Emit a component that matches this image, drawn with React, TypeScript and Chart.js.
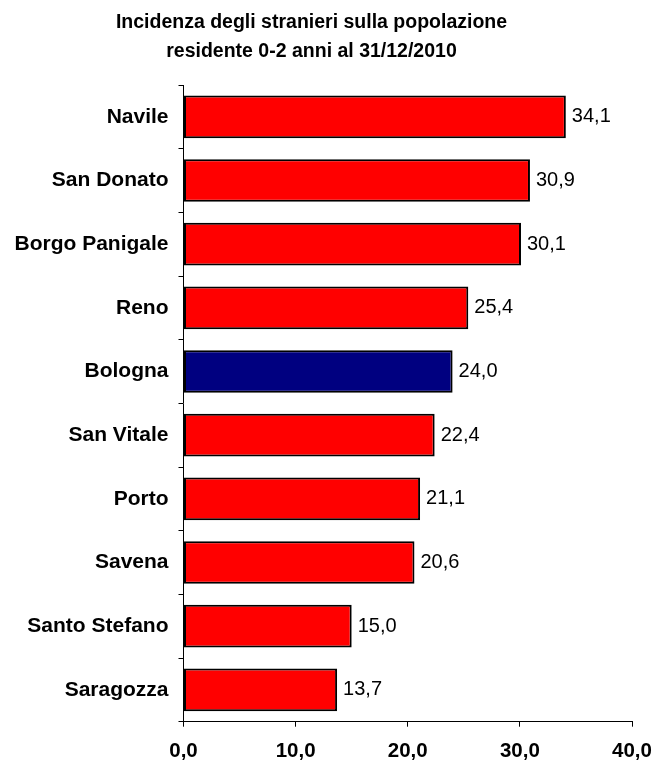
import React, { useEffect, useRef } from "react";
import { Chart, registerables } from "chart.js";

Chart.register(...registerables);

const categories: string[] = [
  "Navile",
  "San Donato",
  "Borgo Panigale",
  "Reno",
  "Bologna",
  "San Vitale",
  "Porto",
  "Savena",
  "Santo Stefano",
  "Saragozza",
];
const values: number[] = [34.1, 30.9, 30.1, 25.4, 24.0, 22.4, 21.1, 20.6, 15.0, 13.7];
const titleLines: string[] = [
  "Incidenza degli stranieri sulla popolazione",
  "residente 0-2 anni al 31/12/2010",
];
const highlight = "Bologna";
const xMin = 0;
const xMax = 40;
const xStep = 10;

const FONT = "'Liberation Sans', Arial, Helvetica, sans-serif";
const fmt = (v: number) => v.toFixed(1).replace(".", ",");

const titlePlugin = {
  id: "customTitle",
  afterDraw(chart: any) {
    const ctx = chart.ctx;
    ctx.save();
    ctx.fillStyle = "#000";
    ctx.font = `bold 19.5px ${FONT}`;
    ctx.textAlign = "center";
    ctx.textBaseline = "middle";
    const cx = 311.5;
    titleLines.forEach((t, i) => ctx.fillText(t, cx, 22.5 + i * 29));
    ctx.restore();
  },
};

const valueLabels = {
  id: "valueLabels",
  afterDatasetsDraw(chart: any) {
    const ctx = chart.ctx;
    const meta = chart.getDatasetMeta(0);
    ctx.save();
    ctx.fillStyle = "#000";
    ctx.font = `20px ${FONT}`;
    ctx.textAlign = "left";
    ctx.textBaseline = "middle";
    meta.data.forEach((bar: any, i: number) => {
      ctx.fillText(fmt(values[i]), bar.x + 6, bar.y);
    });
    ctx.restore();
  },
};

export default function App() {
  const ref = useRef<HTMLCanvasElement>(null);
  useEffect(() => {
    if (!ref.current) return;
    const chart = new Chart(ref.current, {
      type: "bar",
      data: {
        labels: categories,
        datasets: [
          {
            data: values,
            backgroundColor: categories.map((c) => (c === highlight ? "#000080" : "#FF0000")),
            borderColor: "#000",
            borderWidth: 2,
            borderSkipped: false,
            barPercentage: 0.67,
            categoryPercentage: 1,
          },
        ],
      },
      options: {
        indexAxis: "y",
        animation: false,
        responsive: true,
        maintainAspectRatio: false,
        layout: { padding: { left: 0, right: 24, top: 85, bottom: 0 } },
        plugins: {
          legend: { display: false },
          title: { display: false },
          tooltip: { enabled: false },
        },
        scales: {
          x: {
            min: xMin,
            max: xMax,
            ticks: {
              stepSize: xStep,
              color: "#000",
              font: { family: FONT, size: 20.5, weight: "bold" },
              padding: 12,
              maxRotation: 0,
              callback: (v: any) => fmt(Number(v)),
            },
            grid: {
              drawOnChartArea: false,
              drawTicks: true,
              tickLength: 5,
              color: "#000",
            },
            border: { display: true, color: "#000", width: 1 },
            afterFit: (s: any) => {
              s.height = 40.3;
              s.paddingLeft = 0;
              s.paddingRight = 0;
            },
          },
          y: {
            ticks: {
              color: "#000",
              font: { family: FONT, size: 21, weight: "bold" },
              padding: 10,
            },
            grid: {
              drawOnChartArea: false,
              drawTicks: true,
              tickLength: 5,
              color: "#000",
              offset: true,
            },
            border: { display: true, color: "#000", width: 1 },
            afterFit: (s: any) => {
              s.width = 183.5;
              s.paddingTop = 0;
              s.paddingBottom = 0;
            },
          },
        },
      },
      plugins: [titlePlugin, valueLabels],
    });
    return () => chart.destroy();
  }, []);
  return (
    <div style={{ position: "absolute", left: 0, top: 0, width: 656, height: 762 }}>
      <canvas ref={ref} />
    </div>
  );
}
